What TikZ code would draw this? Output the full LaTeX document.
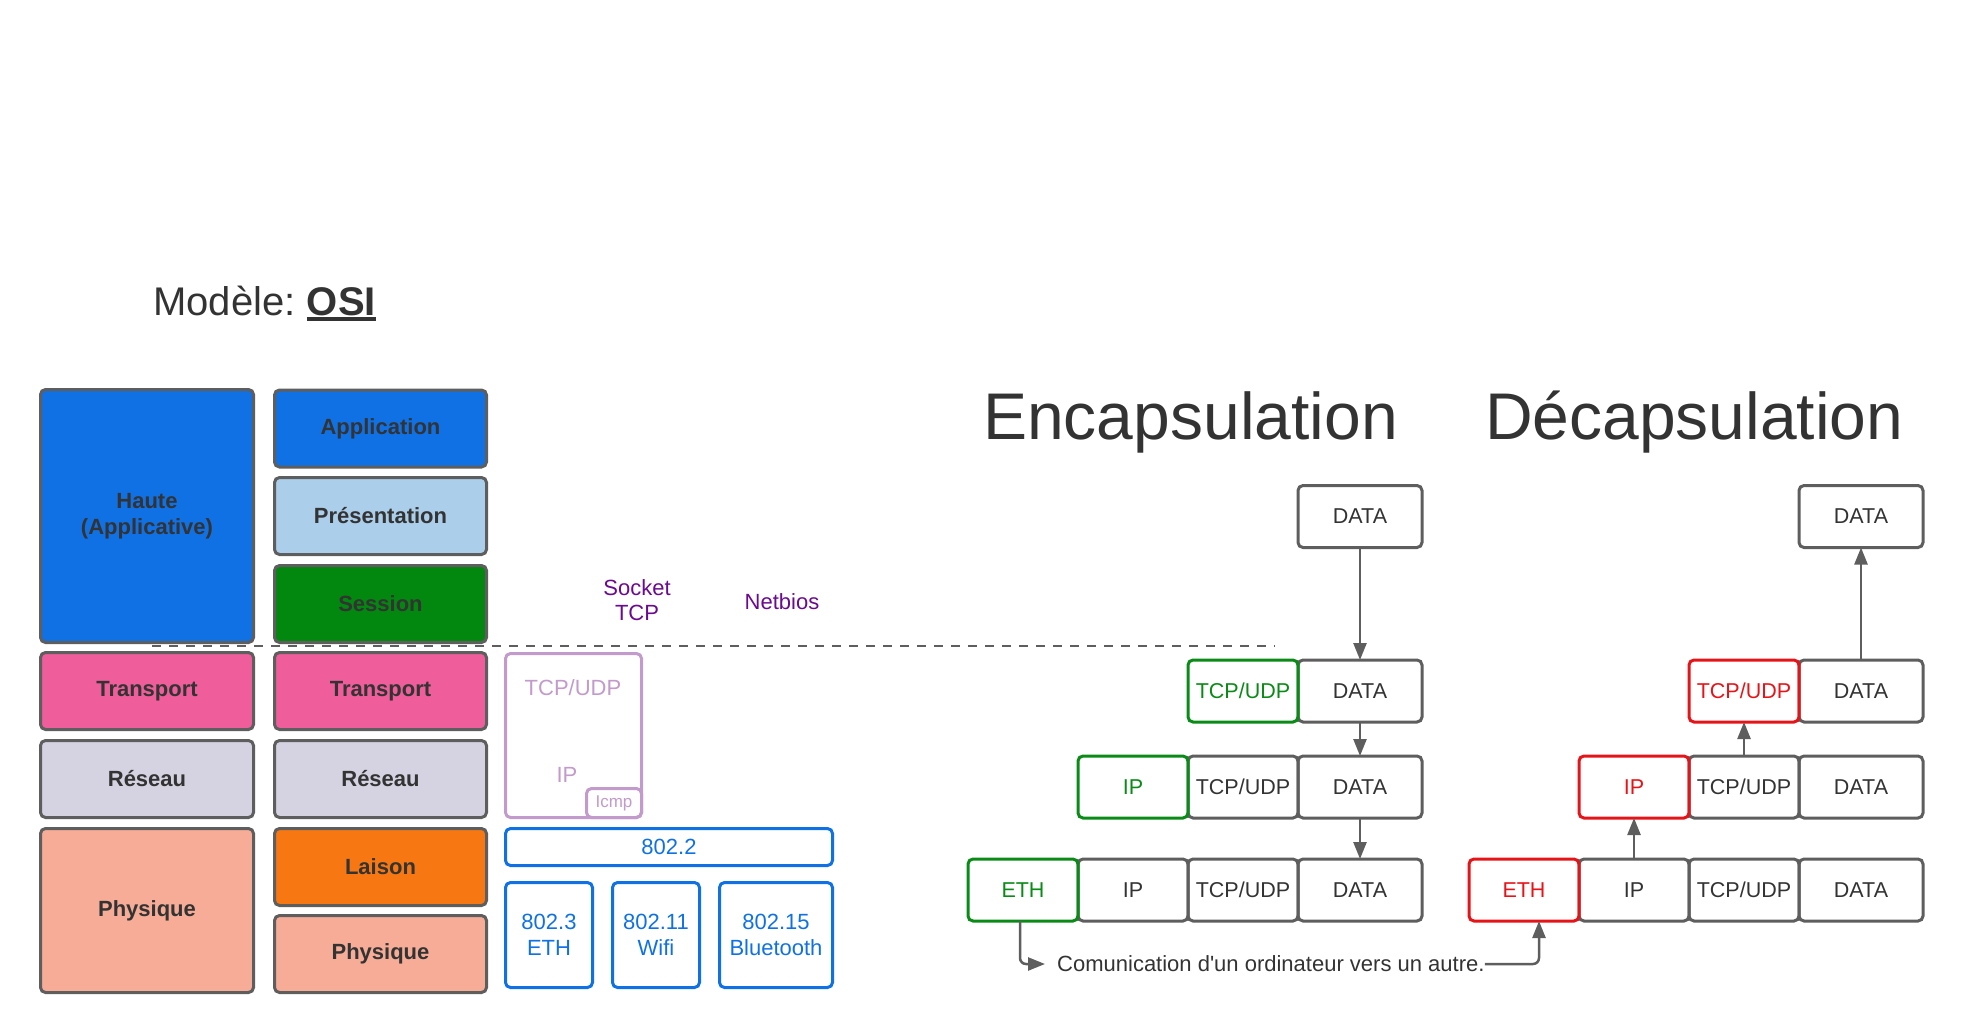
\documentclass[tikz,border=0pt]{standalone}
\usepackage{fontspec}
\setmainfont{Liberation Sans}
\usetikzlibrary{positioning,arrows.meta}

\definecolor{bordgris}{HTML}{5E5E5E}
\definecolor{texte}{HTML}{333333}
\definecolor{bleu}{HTML}{1071E5}
\definecolor{bleuclair}{HTML}{ABCEEA}
\definecolor{vertsession}{HTML}{02880F}
\definecolor{rose}{HTML}{EF5D9A}
\definecolor{grisreseau}{HTML}{D5D3E1}
\definecolor{saumon}{HTML}{F6AC96}
\definecolor{orangeliaison}{HTML}{F77813}
\definecolor{lilas}{HTML}{C29ACB}
\definecolor{violetnom}{HTML}{6A0A8E}
\definecolor{vertenc}{HTML}{0A8A16}
\definecolor{rougedec}{HTML}{E61419}

\begin{document}
\begin{tikzpicture}[x=1pt,y=-1pt,>={Triangle[length=17pt,width=13pt]},
    couche/.style={draw=bordgris,line width=3pt,rounded corners=5pt,text=texte,align=center,inner sep=0pt,
      font=\bfseries\fontsize{22}{26.5}\selectfont,minimum width=212pt,minimum height=77pt},
    proto/.style={draw=bleu,line width=3pt,rounded corners=5pt,text=bleu,align=center,inner sep=0pt,
      font=\fontsize{22}{26.5}\selectfont},
    cell/.style={draw=bordgris,line width=3pt,rounded corners=5pt,text=texte,inner sep=0pt,outer sep=0pt,
      minimum width=110pt,minimum height=62pt,font=\fontsize{21.5}{26}\selectfont},
    data/.style={cell,minimum width=124pt},
    ajout/.style={draw=vertenc,text=vertenc},
    retrait/.style={draw=rougedec,text=rougedec},
    fleche/.style={->,draw=bordgris,line width=2.5pt},
    titre/.style={text=texte,inner sep=0pt,font=\fontsize{66}{70}\selectfont}]
  \useasboundingbox (0,0) rectangle (1966,1034);

  % titre du modele
  \node[anchor=base west,inner sep=0pt,text=texte,font=\fontsize{40}{44}\selectfont] (modele) at (153,315) {Modèle:};
  \node[anchor=base west,inner sep=0pt,text=texte,font=\bfseries\fontsize{40}{44}\selectfont] (osi) at ([xshift=11pt]modele.base east) {OSI};
  \draw[texte,line width=4pt] ([yshift=-4pt]osi.base west) -- ([yshift=-4pt]osi.base east);

  % couches TCP/IP (gauche)
  \node[couche,fill=bleu,minimum width=213pt,minimum height=253pt] (haute) at (147,516) {Haute\\(Applicative)};
  \node[couche,fill=rose,minimum width=213pt] (gtrans) at (147,691) {Transport};
  \node[couche,fill=grisreseau,minimum width=213pt] (gres) at (147,779) {Réseau};
  \node[couche,fill=saumon,minimum width=213pt,minimum height=164pt] (gphys) at (147,910.5) {Physique};

  % couches OSI (droite)
  \foreach \nom/\y/\couleur/\etiq in {appli/428.5/bleu/Application,pres/516/bleuclair/Présentation,
      sess/604/vertsession/Session,trans/691/rose/Transport,res/779/grisreseau/Réseau,
      liaison/867/orangeliaison/Laison,phys/954/saumon/Physique}
    \node[couche,fill=\couleur] (\nom) at (380.5,\y) {\etiq};

  \draw[bordgris,line width=2pt,dash pattern=on 9pt off 8pt] (152,646) -- (1275,646);

  % protocoles
  \node[text=violetnom,align=center,font=\fontsize{22}{25}\selectfont] (socket) at (637,600) {Socket\\TCP};
  \node[text=violetnom,font=\fontsize{22}{25}\selectfont] (netbios) at (782,602) {Netbios};
  \node[draw=lilas,line width=3pt,rounded corners=5pt,outer sep=0pt,minimum width=136pt,minimum height=164pt] (tcpip) at (573.5,735.5) {};
  \node[text=lilas,font=\fontsize{22}{25}\selectfont] (tcpudp) at (573,688) {TCP/UDP};
  \node[text=lilas,font=\fontsize{22}{25}\selectfont] (ip) at (567,775) {IP};
  \node[draw=lilas,text=lilas,line width=3pt,rounded corners=5pt,outer sep=0pt,inner sep=0pt,anchor=south east,
    minimum width=55pt,minimum height=29pt,font=\fontsize{17}{20}\selectfont] (icmp) at (tcpip.south east) {Icmp};
  \node[proto,minimum width=327pt,minimum height=37pt] (p8022) at (669,847) {802.2};
  \node[proto,minimum width=87pt,minimum height=105pt] (p8023) at (549,935) {802.3\\ETH};
  \node[proto,minimum width=87pt,minimum height=105pt] (p80211) at (656,935) {802.11\\Wifi};
  \node[proto,minimum width=113pt,minimum height=105pt] (p80215) at (776,935) {802.15\\Bluetooth};

  % encapsulation
  \node[titre,anchor=base west] (encap) at (983,439) {Encapsulation};
  \node[data] (e0d) at (1360,516.5) {DATA};
  \node[data] (e1d) at (1360,691) {DATA};
  \node[cell,ajout,left=0pt of e1d] (e1t) {TCP/UDP};
  \node[data] (e2d) at (1360,787) {DATA};
  \node[cell,left=0pt of e2d] (e2t) {TCP/UDP};
  \node[cell,ajout,left=0pt of e2t] (e2i) {IP};
  \node[data] (e3d) at (1360,890) {DATA};
  \node[cell,left=0pt of e3d] (e3t) {TCP/UDP};
  \node[cell,left=0pt of e3t] (e3i) {IP};
  \node[cell,ajout,left=0pt of e3i] (e3e) {ETH};
  \draw[fleche] (e0d) -- (e1d);
  \draw[fleche] (e1d) -- (e2d);
  \draw[fleche] (e2d) -- (e3d);

  % decapsulation
  \node[titre,anchor=base west] (decap) at (1485,439) {Décapsulation};
  \node[data] (d0d) at (1861,516.5) {DATA};
  \node[data] (d1d) at (1861,691) {DATA};
  \node[cell,retrait,left=0pt of d1d] (d1t) {TCP/UDP};
  \node[data] (d2d) at (1861,787) {DATA};
  \node[cell,left=0pt of d2d] (d2t) {TCP/UDP};
  \node[cell,retrait,left=0pt of d2t] (d2i) {IP};
  \node[data] (d3d) at (1861,890) {DATA};
  \node[cell,left=0pt of d3d] (d3t) {TCP/UDP};
  \node[cell,left=0pt of d3t] (d3i) {IP};
  \node[cell,retrait,left=0pt of d3i] (d3e) {ETH};
  \draw[fleche] (d1d) -- (d0d);
  \draw[fleche] (d2t) -- (d1t);
  \draw[fleche] (d3i) -- (d2i);

  % communication
  \node[anchor=west,inner sep=0pt,text=texte,font=\fontsize{22}{26}\selectfont] (comm) at (1057,964) {Comunication d\textquotesingle un ordinateur vers un autre.};
  \draw[fleche,rounded corners=6pt,shorten >=12pt] ([xshift=-3pt]e3e.south) |- (comm.west);
  \draw[fleche,rounded corners=6pt] (comm.east) -| ([xshift=15pt]d3e.south);
\end{tikzpicture}
\end{document}
